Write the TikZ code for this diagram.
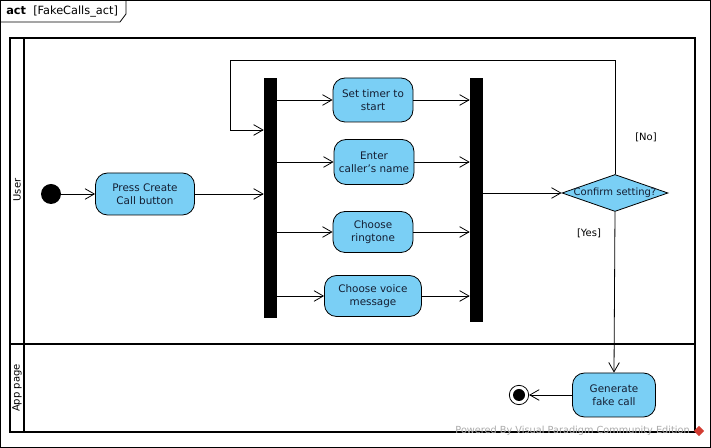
\documentclass[tikz,border=0pt]{standalone}
\usepackage{fontspec}
\setmainfont{DejaVu Sans}
\usetikzlibrary{arrows.meta,shapes.geometric}
\definecolor{actfill}{RGB}{122,207,245}
\definecolor{wmgray}{RGB}{170,170,170}
\definecolor{vpred}{RGB}{210,60,50}
\definecolor{acttext}{RGB}{20,30,50}
\begin{document}
\begin{tikzpicture}[x=0.75pt,y=-0.75pt,
  action/.style={draw, fill=actfill, rounded corners=9pt, align=center, text=acttext,
    font=\fontsize{7.8}{9.8}\selectfont, inner sep=0pt, line width=0.6pt},
  forkbar/.style={fill=black, draw=none, inner sep=0pt, minimum width=9.75pt},
  flow/.style={-{Straight Barb[length=7pt,width=8pt]}, line width=0.6pt},
  guard/.style={font=\fontsize{7.5}{9}\selectfont},
  lanetitle/.style={font=\fontsize{7.5}{9}\selectfont, rotate=90},
  poolline/.style={line width=1.5pt},
]
\useasboundingbox (0,0) rectangle (711,448);
% frame
\draw[line width=0.6pt] (0.5,0.5) rectangle (710.5,447.5);
\draw[line width=0.6pt] (0.5,22) -- (120,22) -- (126,14) -- (126,0.5);
\node[anchor=west, font=\fontsize{8.5}{10}\selectfont, inner sep=0pt] (title) at (6,12) {\textbf{act}\ \ [FakeCalls\_act]};
% pool
\draw[poolline] (10,38) rectangle (695,432);
\draw[poolline] (24,38) -- (24,432);
\draw[poolline] (10,344) -- (695,344);
\node[lanetitle] (lane1) at (17,190) {User};
\node[lanetitle] (lane2) at (17,388) {App page};
% nodes
\node[circle, fill=black, minimum size=15pt, inner sep=0pt] (init) at (51,194) {};
\node[action, minimum width=74.25pt, minimum height=31.5pt] (press) at (145,194) {Press Create\\Call button};
\node[forkbar, minimum height=180pt] (bar1) at (270.5,198) {};
\node[forkbar, minimum height=183pt] (bar2) at (476.5,200) {};
\node[action, minimum width=60pt, minimum height=33pt] (timer) at (373,100) {Set timer to\\start};
\node[action, minimum width=60pt, minimum height=33.75pt] (caller) at (374,162) {Enter\\caller's name};
\node[action, minimum width=60pt, minimum height=30.75pt] (ring) at (373,232) {Choose\\ringtone};
\node[action, minimum width=72.75pt, minimum height=30.75pt] (voice) at (373,296) {Choose voice\\message};
\node[diamond, draw, fill=actfill, line width=0.6pt, minimum width=79.5pt, minimum height=27.75pt, inner sep=0pt] (dec) at (615,193) {};
\node[font=\fontsize{7.5}{9}\selectfont, inner sep=0pt, text=acttext] (dectext) at (dec) {Confirm setting?};
\node[action, minimum width=62.25pt, minimum height=33pt] (gen) at (614,395) {Generate\\fake call};
\node[circle, draw, fill=white, line width=0.6pt, minimum size=14.5pt, inner sep=0pt] (final) at (519,395) {};
\node[circle, fill=black, minimum size=9pt, inner sep=0pt] (finalin) at (final) {};
% guards
\node[guard] (no) at (646,137) {[No]};
\node[guard] (yes) at (589,233) {[Yes]};
% flows
\draw[flow] (init) -- (press.west);
\draw[flow] (press.east) -- (bar1.west |- press.east);
\foreach \n in {timer,caller,ring,voice}{
  \draw[flow] (bar1.east |- \n.west) -- (\n.west);
  \draw[flow] (\n.east) -- (bar2.west |- \n.east);
}
\draw[flow] (bar2.east |- dec.west) -- (dec.west);
\coordinate (lp1) at (230,60);
\coordinate (lp2) at (230,130);
\draw[flow] (dec.north) |- (lp1) -- (lp2) -- (bar1.west |- lp2);
\draw[flow] (dec.south) -- (gen.north);
\draw[flow] (gen.west) -- (final);
% watermark
\node[anchor=east, text=wmgray, font=\fontsize{7.3}{9}\selectfont, inner sep=0pt] (wm) at (690,431) {Powered By Visual Paradigm Community Edition};
\node[diamond, fill=vpred, minimum size=8pt, inner sep=0pt] (logo) at (699,431) {};
\end{tikzpicture}
\end{document}
